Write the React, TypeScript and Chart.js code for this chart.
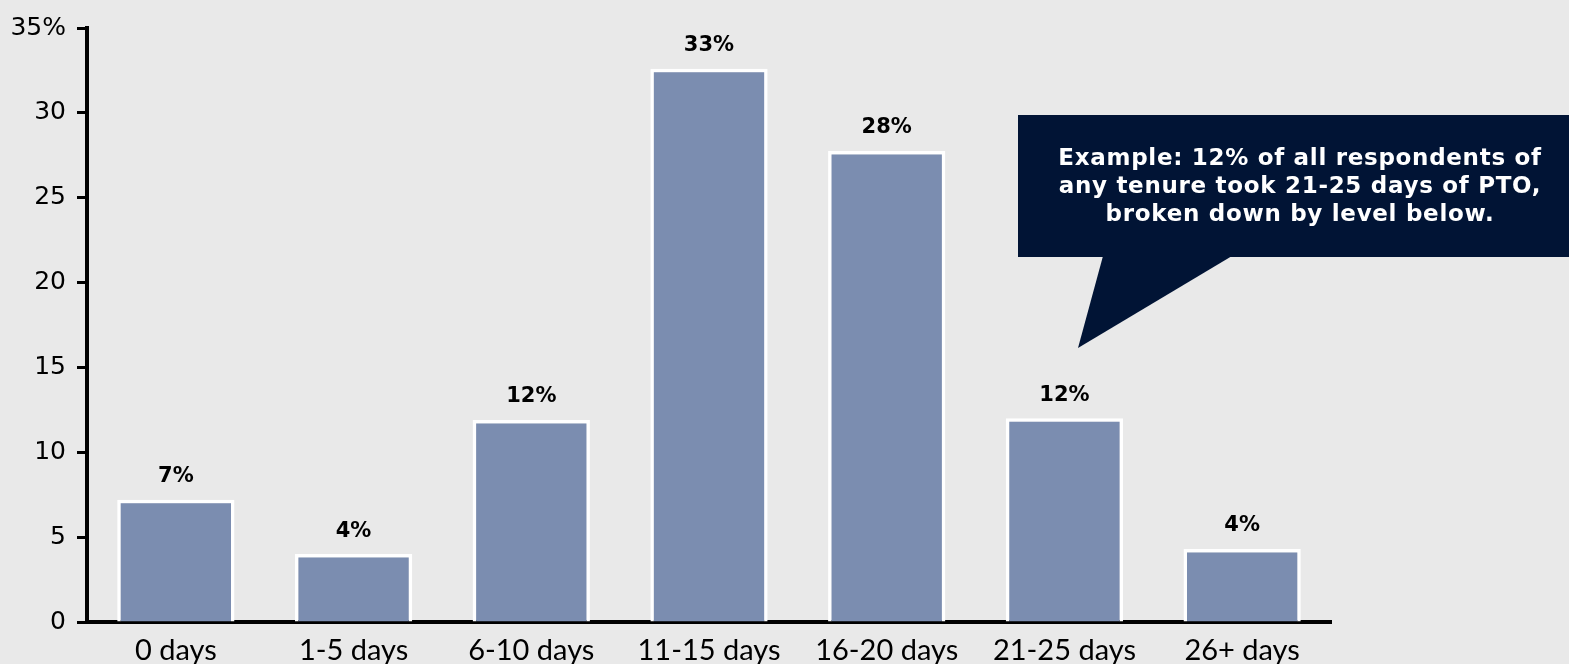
import React, { useEffect, useRef } from "react";
import { Chart, registerables } from "chart.js";

Chart.register(...registerables);

const categories = ["0 days", "1-5 days", "6-10 days", "11-15 days", "16-20 days", "21-25 days", "26+ days"];
const values = [7.2, 4.0, 11.9, 32.6, 27.75, 12.0, 4.3];
const valueLabels = ["7%", "4%", "12%", "33%", "28%", "12%", "4%"];
const yTicks = [0, 5, 10, 15, 20, 25, 30, 35];
const calloutLines = [
  "Example: 12% of all respondents of",
  "any tenure took 21-25 days of PTO,",
  "broken down by level below.",
];

const BG = "#e9e9e9";
const BAR = "#7b8db0";
const NAVY = "#011435";

export default function App() {
  const ref = useRef<HTMLCanvasElement>(null);

  useEffect(() => {
    document.body.style.margin = "0";
    document.body.style.background = BG;
    const canvas = ref.current!;

    const bgPlugin = {
      id: "bg",
      beforeDraw(chart: any) {
        const ctx = chart.ctx;
        ctx.save();
        ctx.fillStyle = BG;
        ctx.fillRect(0, 0, chart.width, chart.height);
        ctx.restore();
      },
    };

    const labelPlugin = {
      id: "valueLabels",
      afterDatasetsDraw(chart: any) {
        const ctx = chart.ctx;
        const meta = chart.getDatasetMeta(0);
        ctx.save();
        ctx.font = "bold 21px 'DejaVu Sans'";
        ctx.fillStyle = "#000";
        ctx.textAlign = "center";
        ctx.textBaseline = "middle";
        meta.data.forEach((bar: any, i: number) => {
          ctx.fillText(valueLabels[i], bar.x, bar.y - 23);
        });
        ctx.restore();
      },
    };

    const calloutPlugin = {
      id: "callout",
      afterDraw(chart: any) {
        const ctx = chart.ctx;
        ctx.save();
        ctx.fillStyle = NAVY;
        ctx.fillRect(1018, 115, 551, 142);
        ctx.beginPath();
        ctx.moveTo(1103, 256);
        ctx.lineTo(1078, 348);
        ctx.lineTo(1232, 256);
        ctx.closePath();
        ctx.fill();
        ctx.fillStyle = "#fff";
        ctx.font = "bold 23px 'DejaVu Sans'";
        ctx.textAlign = "center";
        ctx.textBaseline = "middle";
        try {
          (ctx as any).letterSpacing = "0.7px";
        } catch (e) {}
        calloutLines.forEach((t, i) => {
          ctx.fillText(t, 1300, 159 + i * 28);
        });
        ctx.restore();
      },
    };

    const chart = new Chart(canvas, {
      type: "bar",
      data: {
        labels: categories,
        datasets: [
          {
            data: values,
            backgroundColor: BAR,
            borderColor: "#ffffff",
            borderWidth: 3.5,
            borderSkipped: "bottom",
            barPercentage: 0.66,
            categoryPercentage: 1,
          },
        ],
      },
      options: {
        responsive: false,
        animation: false,
        layout: { padding: { top: 28, right: 238, bottom: 0, left: 0 } },
        plugins: { legend: { display: false }, tooltip: { enabled: false } },
        scales: {
          x: {
            grid: { display: false, drawTicks: false },
            border: { display: true, color: "#000", width: 4 },
            ticks: {
              color: "#000",
              font: { family: "Lato", size: 29 },
              padding: 11,
              maxRotation: 0,
            },
            afterFit(scale: any) {
              scale.height = 42;
            },
          },
          y: {
            min: 0,
            max: 35,
            afterBuildTicks(scale: any) {
              scale.ticks = yTicks.map((v) => ({ value: v }));
            },
            grid: {
              drawOnChartArea: false,
              drawTicks: true,
              tickLength: 10,
              tickWidth: 3,
              tickColor: "#000",
            },
            border: { display: true, color: "#000", width: 4 },
            ticks: {
              color: "#000",
              font: { family: "DejaVu Sans", size: 25 },
              padding: 11,
              callback: (v: any) => (v === 35 ? "35%" : String(v)),
            },
            afterFit(scale: any) {
              scale.width = 87;
            },
          },
        },
      },
      plugins: [bgPlugin, labelPlugin, calloutPlugin],
    });
    return () => chart.destroy();
  }, []);

  return <canvas ref={ref} width={1569} height={664} style={{ display: "block" }} />;
}
